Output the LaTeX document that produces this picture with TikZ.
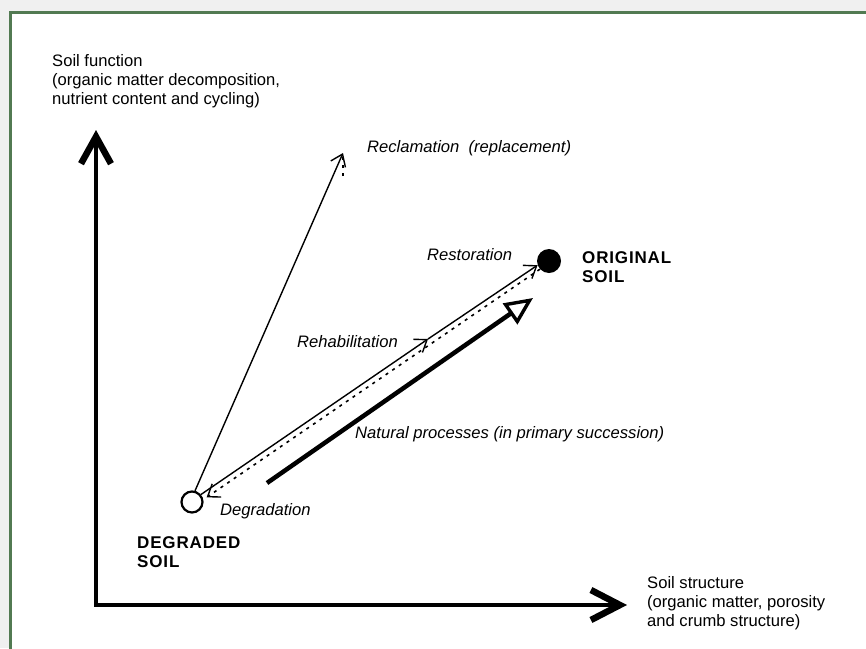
\documentclass[tikz,border=0pt]{standalone}
\usepackage{fontspec}
\setmainfont{Liberation Sans}
\usetikzlibrary{arrows.meta}
\definecolor{framegreen}{RGB}{82,122,82}
\definecolor{outergray}{RGB}{240,240,240}
\begin{document}
\begin{tikzpicture}[x=1pt,y=-1pt,
  lbl/.style={inner sep=0pt, align=left, font=\fontsize{16.6}{19}\selectfont},
  ilbl/.style={inner sep=0pt, font=\fontsize{16.6}{19}\selectfont\itshape},
  blbl/.style={inner sep=0pt, align=left, font=\fontsize{17}{19}\selectfont\bfseries\addfontfeature{LetterSpace=5}},
  axisline/.style={line width=4.5pt,
    {Straight Barb[length=27pt,width=30pt,line width=6.5pt]}-{Straight Barb[length=29pt,width=30pt,line width=6.5pt]}},
  thinarrow/.style={line width=1.4pt, -{Straight Barb[length=11pt,width=16pt,line width=1.4pt]}},
  dotline/.style={line width=1.6pt, dash pattern=on 3pt off 5pt},
  dotarrow/.style={dotline, -{Straight Barb[length=11pt,width=16pt,line width=1.4pt,sep=0pt]}},
  natarrow/.style={line width=4.5pt, -{Triangle[open,length=28pt,width=25pt,line width=3.4pt]}},
]
\useasboundingbox (0,0) rectangle (866,648);
\clip (0,0) rectangle (866,648);
\fill[outergray] (0,0) rectangle (866,648);
\draw[framegreen, fill=white, line width=3pt] (10,12) rectangle (880,662);

% axes
\coordinate (origin) at (96,605);
\coordinate (ytip) at (96,130);
\coordinate (xtip) at (627,605);
\draw[axisline] (ytip) -- (origin) -- (xtip);

% soil states
\node[circle, draw, fill=white, line width=2.2pt, minimum size=21pt, inner sep=0pt] (deg) at (192,502) {};
\node[circle, fill=black, minimum size=24pt, inner sep=0pt] (orig) at (549,261) {};

% reclamation
\coordinate (reclend) at (343,153);
\coordinate (recldot) at (343,176);
\draw[thinarrow] (deg.75) -- (reclend);
\draw[dotline] (recldot) -- (reclend);

% rehabilitation / restoration
\coordinate (rehabmid) at (428,339);
\draw[thinarrow] (deg.40) -- (rehabmid);
\draw[thinarrow] (rehabmid) -- (orig.200);

% degradation
\draw[dotarrow, shorten >=4pt] (orig.222) -- (deg.12);

% natural processes
\coordinate (natS) at (267,483);
\coordinate (natE) at (533,298);
\draw[natarrow] (natS) -- (natE);

% labels
\node[lbl, anchor=north west] (yl) at (52,54) {Soil function\\(organic matter decomposition,\\nutrient content and cycling)};
\node[lbl, anchor=north west] (xl) at (647,576) {Soil structure\\(organic matter, porosity\\and crumb structure)};
\node[ilbl, anchor=base west] (recl) at (367,152) {Reclamation \ (replacement)};
\node[ilbl, anchor=base west] (rest) at (427,260) {Restoration};
\node[ilbl, anchor=base west] (rehab) at (297,347) {Rehabilitation};
\node[ilbl, anchor=base west] (nat) at (355,438) {Natural processes (in primary succession)};
\node[ilbl, anchor=base west] (degl) at (220,515) {Degradation};
\node[blbl, anchor=north west] (origl) at (582,251) {ORIGINAL\\SOIL};
\node[blbl, anchor=north west] (degsl) at (137,536) {DEGRADED\\SOIL};
\end{tikzpicture}
\end{document}
